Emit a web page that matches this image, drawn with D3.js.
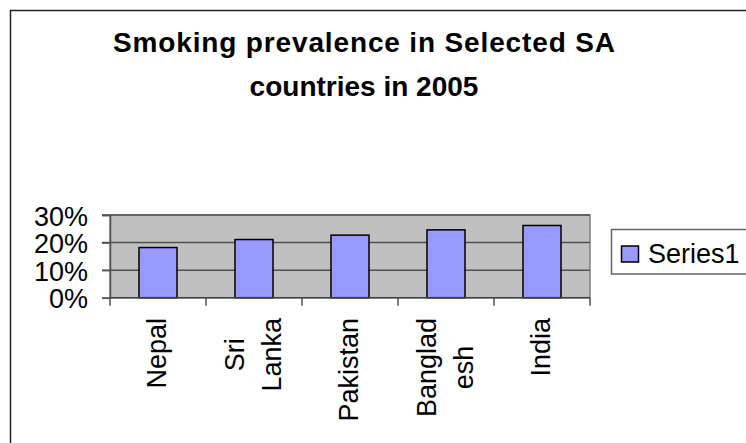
<!DOCTYPE html>
<html>
<head>
<meta charset="utf-8">
<script src="https://cdn.jsdelivr.net/npm/d3@7"></script>
<style>
  html, body { margin: 0; padding: 0; background: #fff; }
  svg { display: block; font-family: "Liberation Sans", Arial, sans-serif; }
</style>
</head>
<body>
<svg id="chart" width="746" height="443"></svg>
<script>
// Smoking prevalence, selected South Asian countries, 2005
const categories = ["Nepal", "Sri Lanka", "Pakistan", "Bangladesh", "India"];
const categoryLines = [["Nepal"], ["Sri", "Lanka"], ["Pakistan"], ["Banglad", "esh"], ["India"]];
const series1 = [0.182, 0.211, 0.227, 0.246, 0.262];
const yTicks = [0, 0.1, 0.2, 0.3];
const seriesName = "Series1";
const titleLines = ["Smoking prevalence in Selected SA", "countries in 2005"];

const svg = d3.select("#chart");
const plot = { left: 110, right: 590, top: 215, bottom: 297.7 };

// chart frame
svg.append("rect")
  .attr("x", 10.5).attr("y", 10.5)
  .attr("width", 760).attr("height", 460)
  .attr("fill", "#fff").attr("stroke", "#222").attr("stroke-width", 1.5);

// title (first line set wide with extra letter spacing)
const title = svg.append("text")
  .attr("text-anchor", "middle")
  .attr("font-weight", "bold").attr("font-size", 28);
title.selectAll("tspan").data(titleLines).join("tspan")
  .attr("x", 364)
  .attr("y", (d, i) => 52 + i * 44)
  .text(d => d);
title.select("tspan").attr("textLength", 502).attr("lengthAdjust", "spacing");

const x = d3.scaleBand().domain(categories).range([plot.left, plot.right]).paddingInner(0).paddingOuter(0);
const y = d3.scaleLinear().domain([0, 0.3]).range([plot.bottom, plot.top]);

// plot area
svg.append("rect")
  .attr("x", plot.left).attr("y", plot.top)
  .attr("width", plot.right - plot.left).attr("height", plot.bottom - plot.top)
  .attr("fill", "#c0c0c0").attr("stroke", "#808080").attr("stroke-width", 1.5);

// gridlines + y tick marks
svg.append("g").selectAll("line").data(yTicks.filter(t => t > 0)).join("line")
  .attr("x1", plot.left - 8).attr("x2", plot.right)
  .attr("y1", d => y(d)).attr("y2", d => y(d))
  .attr("stroke", "#505050").attr("stroke-width", 1.5);

// y axis
const yAxis = svg.append("g")
  .attr("transform", `translate(${plot.left},0)`)
  .call(d3.axisLeft(y).tickValues(yTicks).tickFormat(d3.format(".0%")).tickSize(8).tickPadding(14));
yAxis.select(".domain").attr("stroke", "#505050").attr("stroke-width", 1.5);
yAxis.selectAll(".tick line").attr("stroke", "#505050").attr("stroke-width", 1.5);
yAxis.selectAll(".tick text")
  .attr("font-size", 27).attr("font-family", "Liberation Sans, Arial, sans-serif")
  .attr("fill", "#000").attr("dy", "0.37em");

// bars
const barW = 38;
svg.append("g").selectAll("rect").data(series1).join("rect")
  .attr("x", (d, i) => x(categories[i]) + x.bandwidth() / 2 - barW / 2)
  .attr("y", d => y(d))
  .attr("width", barW)
  .attr("height", d => y(0) - y(d))
  .attr("fill", "#9999ff").attr("stroke", "#000").attr("stroke-width", 1.5);

// category axis
const boundaries = categories.map(c => x(c)).concat([plot.right]);
svg.append("line")
  .attr("x1", plot.left).attr("x2", plot.right)
  .attr("y1", plot.bottom).attr("y2", plot.bottom)
  .attr("stroke", "#404040").attr("stroke-width", 1.5);
svg.append("g").selectAll("line").data(boundaries).join("line")
  .attr("x1", d => d).attr("x2", d => d)
  .attr("y1", plot.bottom).attr("y2", plot.bottom + 8)
  .attr("stroke", "#505050").attr("stroke-width", 1.5);

// rotated category labels
const labelTop = 318, lineGap = 37;
categoryLines.forEach((lines, i) => {
  const cx = x(categories[i]) + x.bandwidth() / 2;
  const g = svg.append("g").attr("transform", `translate(${cx},${labelTop}) rotate(-90)`);
  const texts = g.selectAll("text").data(lines).join("text")
    .attr("font-size", 27).attr("text-anchor", "middle")
    .attr("y", (d, j) => 8 + (j - (lines.length - 1) / 2) * lineGap)
    .text(d => d);
  const w = d3.max(texts.nodes(), n => n.getComputedTextLength());
  texts.attr("x", -w / 2);
});

// legend
svg.append("rect")
  .attr("x", 611.5).attr("y", 229.5).attr("width", 150).attr("height", 44.5)
  .attr("fill", "#fff").attr("stroke", "#666").attr("stroke-width", 1.5);
svg.append("rect")
  .attr("x", 621.5).attr("y", 246).attr("width", 17).attr("height", 16)
  .attr("fill", "#9999ff").attr("stroke", "#000").attr("stroke-width", 1.5);
svg.append("text")
  .attr("x", 648).attr("y", 263)
  .attr("font-size", 27)
  .text(seriesName);
</script>
</body>
</html>
